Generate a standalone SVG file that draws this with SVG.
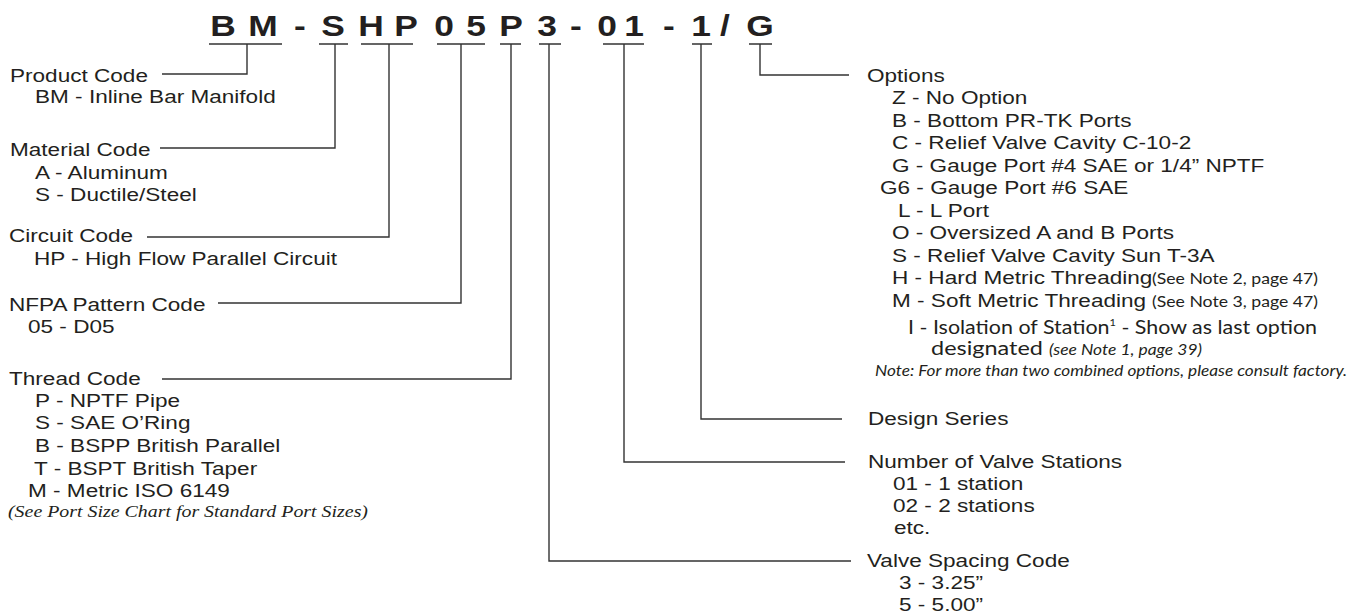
<svg xmlns="http://www.w3.org/2000/svg" width="1368" height="613" viewBox="0 0 1368 613">
<style>
.t{font-family:"Liberation Sans",Arial,sans-serif;font-size:18.5px;fill:#231f20}
.c{font-family:"Liberation Sans",Arial,sans-serif;font-weight:bold;font-size:29px;fill:#231f20;text-anchor:middle}
.f{font-family:Lato,"DejaVu Sans",sans-serif;font-size:19.5px;fill:#231f20}
.fs{font-family:Lato,"DejaVu Sans",sans-serif;font-size:16px;fill:#231f20}
.fi{font-family:Lato,"DejaVu Sans",sans-serif;font-size:14.5px;font-style:italic;fill:#231f20}
.si{font-family:"Liberation Serif","Times New Roman",serif;font-size:16.5px;font-style:italic;fill:#231f20}
.u{stroke:#333;stroke-width:1.5;fill:none}
.l{stroke:#333;stroke-width:1.4;fill:none}
</style>
<rect width="1368" height="613" fill="#fff"/>
<g id="code">
<text class="c" transform="matrix(1.22 0 0 1 223 36)">B</text>
<text class="c" transform="matrix(1.22 0 0 1 263 36)">M</text>
<text class="c" transform="matrix(1.22 0 0 1 300 36)">-</text>
<text class="c" transform="matrix(1.22 0 0 1 333 36)">S</text>
<text class="c" transform="matrix(1.22 0 0 1 371 36)">H</text>
<text class="c" transform="matrix(1.22 0 0 1 406 36)">P</text>
<text class="c" transform="matrix(1.22 0 0 1 444 36)">0</text>
<text class="c" transform="matrix(1.22 0 0 1 476 36)">5</text>
<text class="c" transform="matrix(1.22 0 0 1 511 36)">P</text>
<text class="c" transform="matrix(1.22 0 0 1 547 36)">3</text>
<text class="c" transform="matrix(1.22 0 0 1 576 36)">-</text>
<text class="c" transform="matrix(1.22 0 0 1 607 36)">0</text>
<text class="c" transform="matrix(1.22 0 0 1 634 36)">1</text>
<text class="c" transform="matrix(1.22 0 0 1 669 36)">-</text>
<text class="c" transform="matrix(1.22 0 0 1 701 36)">1</text>
<text class="c" transform="matrix(1.22 0 0 1 725 36)">/</text>
<text class="c" transform="matrix(1.22 0 0 1 760 36)">G</text>
<path class="u" d="M209,44H282M319,44H348M361,44H413M437,44H485M500,44H521M539,44H561M603,44H644M692,44H712M749,44H772"/>
</g>
<g id="connectors">
<path class="l" d="M162,74H247V44"/>
<path class="l" d="M160,148H335V44"/>
<path class="l" d="M147,237H389V44"/>
<path class="l" d="M218,303H461V44"/>
<path class="l" d="M162,379H511V44"/>
<path class="l" d="M549,44V561H851"/>
<path class="l" d="M624,44V462H845"/>
<path class="l" d="M701,44V419H842"/>
<path class="l" d="M760,44V75H849"/>
</g>
<g id="product">
<text class="t" transform="matrix(1.22 0 0 1 10 82)">Product Code</text>
<text class="t" transform="matrix(1.22 0 0 1 35 103)">BM - Inline Bar Manifold</text>
</g>
<g id="material">
<text class="t" transform="matrix(1.22 0 0 1 10 156)">Material Code</text>
<text class="t" transform="matrix(1.22 0 0 1 35 179)">A - Aluminum</text>
<text class="t" transform="matrix(1.22 0 0 1 35 201)">S - Ductile/Steel</text>
</g>
<g id="circuit">
<text class="t" transform="matrix(1.22 0 0 1 9 242)">Circuit Code</text>
<text class="t" transform="matrix(1.22 0 0 1 34 265)">HP - High Flow Parallel Circuit</text>
</g>
<g id="nfpa">
<text class="t" transform="matrix(1.22 0 0 1 9 311)">NFPA Pattern Code</text>
<text class="t" transform="matrix(1.22 0 0 1 28 333)">05 - D05</text>
</g>
<g id="thread">
<text class="t" transform="matrix(1.22 0 0 1 9 385)">Thread Code</text>
<text class="t" transform="matrix(1.22 0 0 1 35 407)">P - NPTF Pipe</text>
<text class="t" transform="matrix(1.22 0 0 1 35 429)">S - SAE O’Ring</text>
<text class="t" transform="matrix(1.22 0 0 1 35 452)">B - BSPP British Parallel</text>
<text class="t" transform="matrix(1.22 0 0 1 34 475)">T - BSPT British Taper</text>
<text class="t" transform="matrix(1.22 0 0 1 28 497)">M - Metric ISO 6149</text>
<text class="si" x="8" y="517" textLength="360" lengthAdjust="spacingAndGlyphs">(See Port Size Chart for Standard Port Sizes)</text>
</g>
<g id="options">
<text class="t" transform="matrix(1.22 0 0 1 867 82)">Options</text>
<text class="t" transform="matrix(1.22 0 0 1 892 104)">Z - No Option</text>
<text class="t" transform="matrix(1.22 0 0 1 892 126.5)">B - Bottom PR-TK Ports</text>
<text class="t" transform="matrix(1.22 0 0 1 892 149)">C - Relief Valve Cavity C-10-2</text>
<text class="t" transform="matrix(1.22 0 0 1 892 171.5)">G - Gauge Port #4 SAE or 1/4” NPTF</text>
<text class="t" transform="matrix(1.22 0 0 1 880 194)">G6 - Gauge Port #6 SAE</text>
<text class="t" transform="matrix(1.22 0 0 1 898 216.5)">L - L Port</text>
<text class="t" transform="matrix(1.22 0 0 1 892 239)">O - Oversized A and B Ports</text>
<text class="t" transform="matrix(1.22 0 0 1 892 261.5)">S - Relief Valve Cavity Sun T-3A</text>
<text class="t" transform="matrix(1.22 0 0 1 892 284)">H - Hard Metric Threading</text>
<text class="fs" x="1152" y="284" textLength="166" lengthAdjust="spacingAndGlyphs">(See Note 2, page 47)</text>
<text class="t" transform="matrix(1.22 0 0 1 892 306.5)">M - Soft Metric Threading</text>
<text class="fs" x="1152" y="306.5" textLength="166" lengthAdjust="spacingAndGlyphs">(See Note 3, page 47)</text>
<text class="f" x="908" y="334" textLength="409" lengthAdjust="spacingAndGlyphs">I - Isolation of Station<tspan font-size="10" dy="-8">1</tspan><tspan dy="8"> - Show as last option</tspan></text>
<text class="f" x="931" y="355" textLength="271" lengthAdjust="spacingAndGlyphs">designated <tspan class="fi" font-size="16">(see Note 1, page 39)</tspan></text>
<text class="fi" x="875" y="376" textLength="472" lengthAdjust="spacingAndGlyphs">Note:  For more than two combined options, please consult factory.</text>
</g>
<g id="design">
<text class="t" transform="matrix(1.22 0 0 1 868 425)">Design Series</text>
</g>
<g id="number">
<text class="t" transform="matrix(1.22 0 0 1 868 468)">Number of Valve Stations</text>
<text class="t" transform="matrix(1.22 0 0 1 893 490)">01 - 1 station</text>
<text class="t" transform="matrix(1.22 0 0 1 893 512)">02 - 2 stations</text>
<text class="t" transform="matrix(1.22 0 0 1 894 534)">etc.</text>
</g>
<g id="spacing">
<text class="t" transform="matrix(1.22 0 0 1 867 567)">Valve Spacing Code</text>
<text class="t" transform="matrix(1.22 0 0 1 899 589)">3 - 3.25”</text>
<text class="t" transform="matrix(1.22 0 0 1 899 611)">5 - 5.00”</text>
</g>
</svg>
